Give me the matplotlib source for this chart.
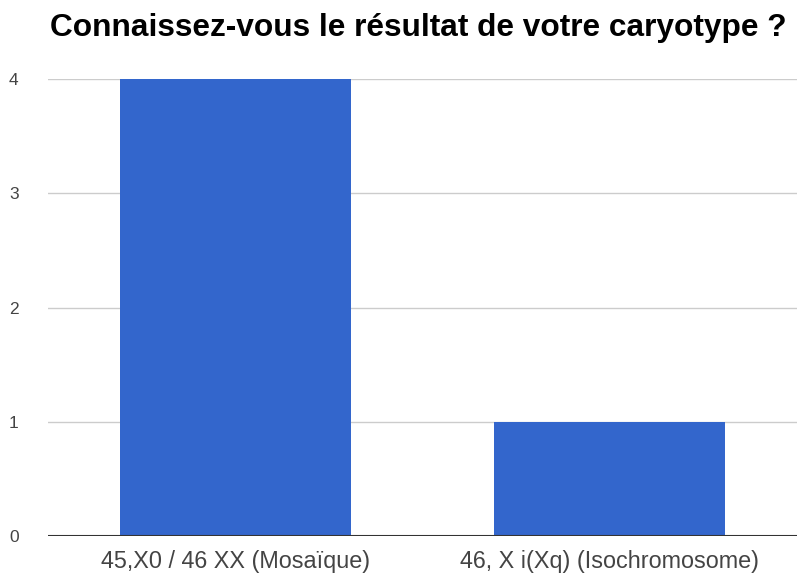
import matplotlib.pyplot as plt

plt.rcParams['font.family'] = ['Liberation Sans', 'DejaVu Sans']

# Data
categories = ['45,X0 / 46 XX (Mosaïque)', '46, X i(Xq) (Isochromosome)']
counts = [4, 1]
y_ticks = [0, 1, 2, 3, 4]

fig = plt.figure(figsize=(7.97, 5.77), dpi=100)
ax = fig.add_axes([0.060, 0.071, 0.94, 0.792])

x = range(len(categories))
ax.bar(x, counts, width=0.617, color='#3366cc', zorder=3)

ax.set_xlim(-0.5, 1.5)
ax.set_ylim(0, 4)
ax.set_yticks(y_ticks)
ax.set_xticks(list(x))
ax.set_xticklabels(categories)

ax.grid(axis='y', color='#cccccc', linewidth=1, zorder=0)
ax.axhline(0, color='#333333', linewidth=1.5, zorder=4)
for s in ax.spines.values():
    s.set_visible(False)
ax.tick_params(axis='both', length=0, colors='#444444')
ax.tick_params(axis='x', labelsize=16.8, pad=10)
ax.tick_params(axis='y', labelsize=12.5, pad=21)

fig.text(0.063, 0.938, 'Connaissez-vous le résultat de votre caryotype ?',
         fontsize=22.8, fontweight='bold', color='#000000', ha='left', va='baseline')

fig.savefig('out.png', dpi=100)
